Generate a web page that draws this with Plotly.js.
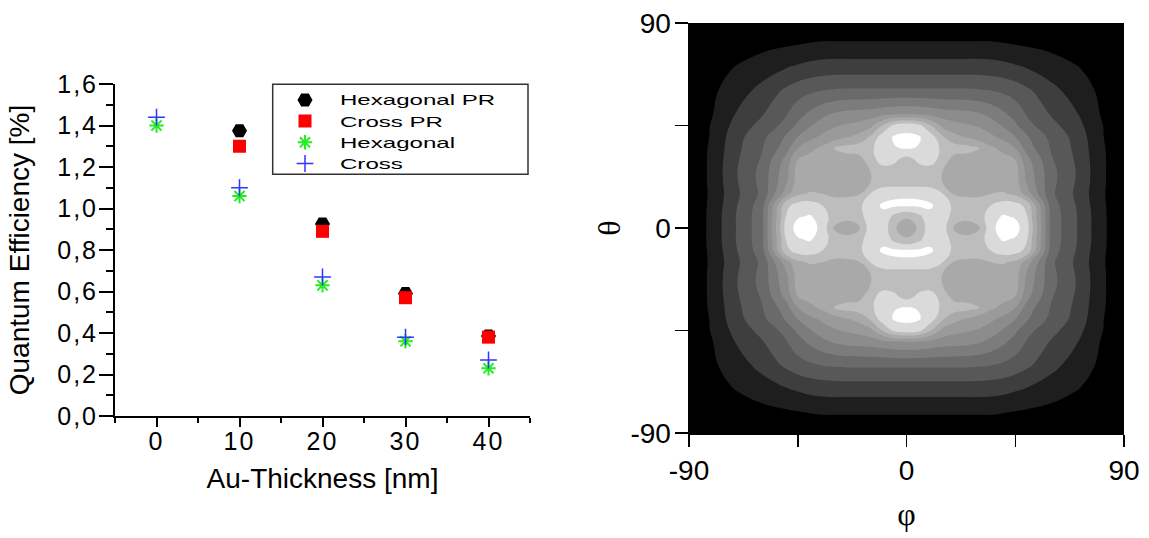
<!DOCTYPE html>
<html>
<head>
<meta charset="utf-8">
<script src="https://cdn.plot.ly/plotly-3.0.1.min.js"></script>
<style>
html, body { margin: 0; padding: 0; background: #ffffff; }
#chart { width: 1149px; height: 538px; }
.legendtext { transform: scaleX(1.72); transform-box: fill-box; transform-origin: 0 50%; }
.subplot.xy .xtick text, .subplot.xy .ytick text { letter-spacing: 2px; }
</style>
</head>
<body>
<div id="chart"></div>
<script>
// ---------- left panel data ----------
const hexPRThickness   = [10, 20, 30, 40];
const hexPRQE          = [1.375, 0.925, 0.59, 0.385];
const crossPRThickness = [10, 20, 30, 40];
const crossPRQE        = [1.30, 0.89, 0.57, 0.38];
const hexThickness     = [0, 10, 20, 30, 40];
const hexQE            = [1.40, 1.06, 0.63, 0.36, 0.23];
const crossThickness   = [0, 10, 20, 30, 40];
const crossQE          = [1.44, 1.10, 0.67, 0.38, 0.27];

const seriesNames = ['Hexagonal PR', 'Cross PR', 'Hexagonal', 'Cross'];
const yTickVals = [0, 0.2, 0.4, 0.6, 0.8, 1.0, 1.2, 1.4, 1.6];
const xTickVals = [0, 10, 20, 30, 40];

// ---------- right panel data (grey band level) ----------
const phi   = [-90,-80,-70,-60,-50,-45,-40,-35,-30,-25,-20,-15,-10,-5,0,5,10,15,20,25,30,35,40,45,50,60,70,80,90];
const theta = [-90,-80,-70,-60,-50,-45,-40,-35,-30,-25,-20,-15,-10,-5,0,5,10,15,20,25,30,35,40,45,50,60,70,80,90];
const level = [
 [-0.5,-0.5,-0.5,-0.5,-0.5,-0.5,-0.5,-0.5,-0.5,-0.5,-0.5,-0.5,-0.5,-0.5,-0.5,-0.5,-0.5,-0.5,-0.5,-0.5,-0.5,-0.5,-0.5,-0.5,-0.5,-0.5,-0.5,-0.5,-0.5],
 [-0.5,-0.2,0.0,0.25,0.45,0.55,0.65,0.75,0.75,0.75,0.75,0.75,0.75,0.75,0.75,0.75,0.75,0.75,0.75,0.75,0.75,0.75,0.65,0.55,0.45,0.25,0.0,-0.2,-0.5],
 [-0.5,0.1,0.6,1.05,1.5,1.7,1.9,2.0,2.05,2.05,2.05,2.05,2.05,2.05,2.05,2.05,2.05,2.05,2.05,2.05,2.05,2.0,1.9,1.7,1.5,1.05,0.6,0.1,-0.5],
 [-0.5,0.35,1.1,1.8,2.7,3.1,3.35,3.55,3.65,3.7,3.7,3.7,3.7,3.7,3.7,3.7,3.7,3.7,3.7,3.7,3.65,3.55,3.35,3.1,2.7,1.8,1.1,0.35,-0.5],
 [-0.5,0.5,1.6,2.4,3.4,4.1,4.7,5.2,5.6,5.8,5.9,6.0,6.2,6.4,6.5,6.4,6.2,6.0,5.9,5.8,5.6,5.2,4.7,4.1,3.4,2.4,1.6,0.5,-0.5],
 [-0.5,0.65,1.9,2.8,3.8,4.7,5.4,6.0,6.4,6.6,6.8,7.2,8.5,9.8,10.1,9.8,8.5,7.2,6.8,6.6,6.4,6.0,5.4,4.7,3.8,2.8,1.9,0.65,-0.5],
 [-0.5,0.7,2.2,3.2,4.6,5.5,6.2,6.7,7.0,7.4,7.8,8.6,10.0,10.6,10.7,10.6,10.0,8.6,7.8,7.4,7.0,6.7,6.2,5.5,4.6,3.2,2.2,0.7,-0.5],
 [-0.5,0.8,2.3,3.4,5.0,6.5,7.2,7.7,8.5,8.9,9.0,9.3,10.0,10.45,10.55,10.45,10.0,9.3,9.0,8.9,8.5,7.7,7.2,6.5,5.0,3.4,2.3,0.8,-0.5],
 [-0.5,0.85,2.4,3.6,5.8,7.5,7.9,8.0,8.0,8.0,8.1,9.0,10.0,9.7,9.1,9.7,10.0,9.0,8.1,8.0,8.0,8.0,7.9,7.5,5.8,3.6,2.4,0.85,-0.5],
 [-0.5,0.85,2.5,3.8,6.1,7.9,8.0,8.0,8.0,8.0,8.0,8.5,9.0,9.1,9.1,9.1,9.0,8.5,8.0,8.0,8.0,8.0,8.0,7.9,6.1,3.8,2.5,0.85,-0.5],
 [-0.5,0.85,2.45,3.8,6.3,8.0,8.0,7.9,7.9,7.9,8.0,8.5,9.0,9.0,9.0,9.0,9.0,8.5,8.0,7.9,7.9,7.9,8.0,8.0,6.3,3.8,2.45,0.85,-0.5],
 [-0.5,0.8,2.35,3.7,7.0,8.3,8.6,8.5,8.3,8.3,8.4,9.5,10.1,10.3,10.35,10.3,10.1,9.5,8.4,8.3,8.3,8.5,8.6,8.3,7.0,3.7,2.35,0.8,-0.5],
 [-0.5,0.85,2.5,4.0,9.2,9.9,10.0,9.5,9.0,9.0,9.2,10.1,10.6,10.7,10.7,10.7,10.6,10.1,9.2,9.0,9.0,9.5,10.0,9.9,9.2,4.0,2.5,0.85,-0.5],
 [-0.5,0.9,2.6,4.1,9.5,10.4,10.6,10.1,9.0,8.8,9.0,10.1,10.3,9.2,8.6,9.2,10.3,10.1,9.0,8.8,9.0,10.1,10.6,10.4,9.5,4.1,2.6,0.9,-0.5],
 [-0.5,0.9,2.6,4.1,9.8,10.9,11.0,10.2,8.4,8.0,8.3,10.0,10.3,8.6,8.0,8.6,10.3,10.0,8.3,8.0,8.4,10.2,11.0,10.9,9.8,4.1,2.6,0.9,-0.5],
 [-0.5,0.9,2.6,4.1,9.5,10.4,10.6,10.1,9.0,8.8,9.0,10.1,10.3,9.2,8.6,9.2,10.3,10.1,9.0,8.8,9.0,10.1,10.6,10.4,9.5,4.1,2.6,0.9,-0.5],
 [-0.5,0.85,2.5,4.0,9.2,9.9,10.0,9.5,9.0,9.0,9.2,10.1,10.6,10.7,10.7,10.7,10.6,10.1,9.2,9.0,9.0,9.5,10.0,9.9,9.2,4.0,2.5,0.85,-0.5],
 [-0.5,0.8,2.35,3.7,7.0,8.3,8.6,8.5,8.3,8.3,8.4,9.5,10.1,10.3,10.35,10.3,10.1,9.5,8.4,8.3,8.3,8.5,8.6,8.3,7.0,3.7,2.35,0.8,-0.5],
 [-0.5,0.85,2.45,3.8,6.3,8.0,8.0,7.9,7.9,7.9,8.0,8.5,9.0,9.0,9.0,9.0,9.0,8.5,8.0,7.9,7.9,7.9,8.0,8.0,6.3,3.8,2.45,0.85,-0.5],
 [-0.5,0.85,2.5,3.8,6.1,7.9,8.0,8.0,8.0,8.0,8.0,8.5,9.0,9.1,9.1,9.1,9.0,8.5,8.0,8.0,8.0,8.0,8.0,7.9,6.1,3.8,2.5,0.85,-0.5],
 [-0.5,0.85,2.4,3.6,5.8,7.5,7.9,8.0,8.0,8.0,8.1,9.0,10.0,9.7,9.1,9.7,10.0,9.0,8.1,8.0,8.0,8.0,7.9,7.5,5.8,3.6,2.4,0.85,-0.5],
 [-0.5,0.8,2.3,3.4,5.0,6.5,7.2,7.7,8.5,8.9,9.0,9.3,10.0,10.45,10.55,10.45,10.0,9.3,9.0,8.9,8.5,7.7,7.2,6.5,5.0,3.4,2.3,0.8,-0.5],
 [-0.5,0.7,2.2,3.2,4.6,5.5,6.2,6.7,7.0,7.4,7.8,8.6,10.0,10.6,10.7,10.6,10.0,8.6,7.8,7.4,7.0,6.7,6.2,5.5,4.6,3.2,2.2,0.7,-0.5],
 [-0.5,0.65,1.9,2.8,3.8,4.7,5.4,6.0,6.4,6.6,6.8,7.2,8.5,9.8,10.1,9.8,8.5,7.2,6.8,6.6,6.4,6.0,5.4,4.7,3.8,2.8,1.9,0.65,-0.5],
 [-0.5,0.5,1.6,2.4,3.4,4.1,4.7,5.2,5.6,5.8,5.9,6.0,6.2,6.4,6.5,6.4,6.2,6.0,5.9,5.8,5.6,5.2,4.7,4.1,3.4,2.4,1.6,0.5,-0.5],
 [-0.5,0.35,1.1,1.8,2.7,3.1,3.35,3.55,3.65,3.7,3.7,3.7,3.7,3.7,3.7,3.7,3.7,3.7,3.7,3.7,3.65,3.55,3.35,3.1,2.7,1.8,1.1,0.35,-0.5],
 [-0.5,0.1,0.6,1.05,1.5,1.7,1.9,2.0,2.05,2.05,2.05,2.05,2.05,2.05,2.05,2.05,2.05,2.05,2.05,2.05,2.05,2.0,1.9,1.7,1.5,1.05,0.6,0.1,-0.5],
 [-0.5,-0.2,0.0,0.25,0.45,0.55,0.65,0.75,0.75,0.75,0.75,0.75,0.75,0.75,0.75,0.75,0.75,0.75,0.75,0.75,0.75,0.75,0.65,0.55,0.45,0.25,0.0,-0.2,-0.5],
 [-0.5,-0.5,-0.5,-0.5,-0.5,-0.5,-0.5,-0.5,-0.5,-0.5,-0.5,-0.5,-0.5,-0.5,-0.5,-0.5,-0.5,-0.5,-0.5,-0.5,-0.5,-0.5,-0.5,-0.5,-0.5,-0.5,-0.5,-0.5,-0.5]
];
const greys = ['#000000','#1e1e1e','#3e3e3e','#585858','#6a6a6a','#7c7c7c','#8c8c8c','#9a9a9a','#a9a9a9','#bdbdbd','#dadada','#ffffff'];
const mapTickVals = [-90, -45, 0, 45, 90];
const mapTickText = ['-90', '', '0', '', '90'];

// ---------- build ----------
const W = 1149, H = 538;
const greyScale = greys.map((c, i) => [i / (greys.length - 1), c]);

const traces = [
  { type: 'scatter', mode: 'markers', name: seriesNames[0], x: hexPRThickness, y: hexPRQE,
    marker: { symbol: 'hexagon2', size: 15, color: '#000000' }, xaxis: 'x', yaxis: 'y' },
  { type: 'scatter', mode: 'markers', name: seriesNames[1], x: crossPRThickness, y: crossPRQE,
    marker: { symbol: 'square', size: 13, color: '#ff0000' }, xaxis: 'x', yaxis: 'y' },
  { type: 'scatter', mode: 'markers', name: seriesNames[2], x: hexThickness, y: hexQE,
    marker: { symbol: 'asterisk-open', size: 12, color: '#22ee22', line: { width: 2, color: '#22ee22' } }, xaxis: 'x', yaxis: 'y' },
  { type: 'scatter', mode: 'markers', name: seriesNames[3], x: crossThickness, y: crossQE,
    marker: { symbol: 'cross-thin-open', size: 12, color: '#3333ff', line: { width: 1.5, color: '#3333ff' } }, xaxis: 'x', yaxis: 'y' },
  { type: 'contour', x: phi, y: theta, z: level, xaxis: 'x2', yaxis: 'y2',
    autocontour: false, contours: { start: 0.5, end: 10.5, size: 1, coloring: 'fill', showlines: false },
    line: { width: 0, smoothing: 1.3 }, colorscale: greyScale, showscale: false, showlegend: false, hoverinfo: 'skip' }
];

const baseAxis = { showgrid: false, zeroline: false, showline: true, linecolor: '#000', ticks: 'outside', tickcolor: '#000', fixedrange: true };

const layout = {
  width: W, height: H,
  margin: { l: 0, r: 0, t: 0, b: 0 },
  paper_bgcolor: '#ffffff', plot_bgcolor: 'rgba(0,0,0,0)',
  separators: ',.',
  font: { family: 'Liberation Sans, Arial, sans-serif', color: '#000' },
  showlegend: true,
  legend: { x: 270 / W, y: (H - 84.3) / H, xanchor: 'left', yanchor: 'top', bgcolor: 'rgba(0,0,0,0)', borderwidth: 0,
            itemwidth: 60, font: { size: 14, color: '#000' }, tracegroupgap: 0 },
  xaxis: Object.assign({}, baseAxis, {
    domain: [115 / W, 530 / W], range: [-5, 45], anchor: 'y',
    tickmode: 'array', tickvals: xTickVals, ticklen: 9, tickwidth: 2, linewidth: 2,
    minor: { dtick: 5, tick0: 0, ticks: 'outside', ticklen: 5, tickwidth: 2, tickcolor: '#000', showgrid: false },
    tickfont: { size: 25 }, ticklabelstandoff: -7,
    title: { text: 'Au-Thickness [nm]', font: { size: 28 }, standoff: 14 }
  }),
  yaxis: Object.assign({}, baseAxis, {
    domain: [(H - 416) / H, (H - 84) / H], range: [0, 1.6], anchor: 'x',
    tickmode: 'array', tickvals: yTickVals, tickformat: '.1f', ticklen: 14, tickwidth: 2, linewidth: 2,
    minor: { dtick: 0.1, tick0: 0, ticks: 'outside', ticklen: 7, tickwidth: 2, tickcolor: '#000', showgrid: false },
    tickfont: { size: 25 }, ticklabelstandoff: -4,
    title: { text: 'Quantum Efficiency [%]', font: { size: 28 }, standoff: 25 }
  }),
  xaxis2: Object.assign({}, baseAxis, {
    domain: [689 / W, 1124 / W], range: [-90, 90], anchor: 'y2',
    tickmode: 'array', tickvals: mapTickVals, ticktext: mapTickText, ticklen: 12, tickwidth: 1.5, linewidth: 1.5,
    tickfont: { size: 28 },
    title: { text: 'φ', font: { size: 32, family: 'Liberation Serif, serif' }, standoff: 17 }
  }),
  yaxis2: Object.assign({}, baseAxis, {
    domain: [(H - 433) / H, (H - 23) / H], range: [-90, 90], anchor: 'x2',
    tickmode: 'array', tickvals: mapTickVals, ticktext: mapTickText, ticklen: 13, tickwidth: 1.5, linewidth: 1.5,
    tickfont: { size: 28 }, ticklabelstandoff: -2,
    title: { text: 'θ', font: { size: 32, family: 'Liberation Serif, serif' }, standoff: 0 }
  }),
  shapes: [
    { type: 'rect', xref: 'paper', yref: 'paper', x0: 272.7 / W, x1: 528 / W, y0: (H - 174.3) / H, y1: (H - 84.3) / H,
      line: { color: '#333333', width: 1.5 }, fillcolor: 'rgba(0,0,0,0)', layer: 'above' }
  ]
};

Plotly.newPlot('chart', traces, layout, { displayModeBar: false, staticPlot: true });
</script>
</body>
</html>
